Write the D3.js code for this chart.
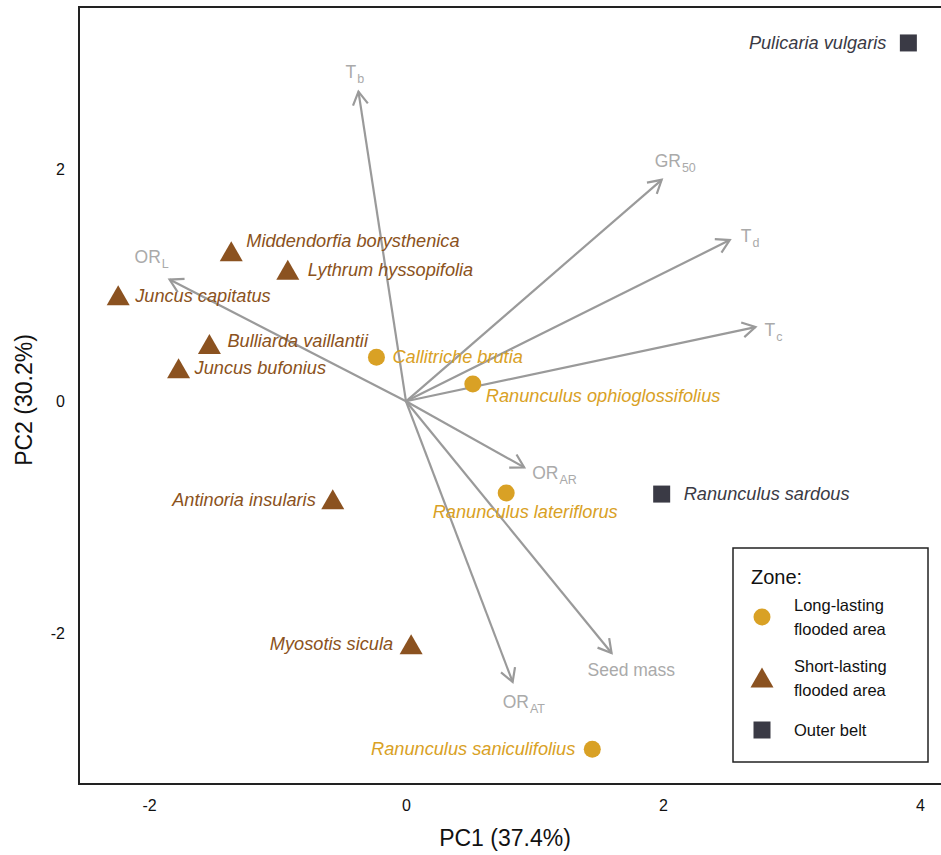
<!DOCTYPE html>
<html>
<head>
<meta charset="utf-8">
<script src="https://cdn.jsdelivr.net/npm/d3@7"></script>
<style>
  body { margin: 0; background: #fff; }
  text { font-family: "Liberation Sans", Arial, sans-serif; }
</style>
</head>
<body>
<script>
let w = 941;
let h = 855;

// species scores
let species = ["Pulicaria vulgaris", "Middendorfia borysthenica", "Lythrum hyssopifolia",
  "Juncus capitatus", "Bulliarda vaillantii", "Juncus bufonius", "Callitriche brutia",
  "Ranunculus ophioglossifolius", "Ranunculus lateriflorus", "Ranunculus sardous",
  "Antinoria insularis", "Myosotis sicula", "Ranunculus saniculifolius"];
let pc1 = [3.91, -1.36, -0.92, -2.24, -1.53, -1.77, -0.23, 0.52, 0.78, 1.99, -0.57, 0.04, 1.45];
let pc2 = [3.09, 1.29, 1.13, 0.91, 0.49, 0.28, 0.38, 0.15, -0.79, -0.80, -0.85, -2.10, -3.00];
let zone = ["outer", "short", "short", "short", "short", "short", "long", "long", "long",
  "outer", "short", "short", "long"];

// trait loadings (arrows)
let traits = ["Tb", "GR50", "Td", "Tc", "ORL", "ORAR", "Seed mass", "ORAT"];
let traitMain = ["T", "GR", "T", "T", "OR", "OR", "Seed mass", "OR"];
let traitSub = ["b", "50", "d", "c", "L", "AR", "", "AT"];
let load1 = [-0.37, 1.99, 2.52, 2.72, -1.84, 0.92, 1.60, 0.83];
let load2 = [2.67, 1.91, 1.39, 0.64, 1.05, -0.57, -2.17, -2.42];

let xTicks = [-2, 0, 2, 4];
let yTicks = [-2, 0, 2];

let zones = ["long", "short", "outer"];
let zoneLabels = [["Long-lasting", "flooded area"], ["Short-lasting", "flooded area"], ["Outer belt"]];
let zoneColors = { long: "#d9a125", short: "#8b5220", outer: "#3a3a45" };

// label placement (dx, dy relative to point, anchor)
let labelPos = {
  "Pulicaria vulgaris": [-22, 6, "end"],
  "Middendorfia borysthenica": [15, -5, "start"],
  "Lythrum hyssopifolia": [20, 6, "start"],
  "Juncus capitatus": [17, 6, "start"],
  "Bulliarda vaillantii": [18, 3, "start"],
  "Juncus bufonius": [16, 5, "start"],
  "Callitriche brutia": [16, 6, "start"],
  "Ranunculus ophioglossifolius": [13, 18, "start"],
  "Ranunculus lateriflorus": [19, 25, "middle"],
  "Ranunculus sardous": [22, 6, "start"],
  "Antinoria insularis": [-17, 6, "end"],
  "Myosotis sicula": [-18, 5, "end"],
  "Ranunculus saniculifolius": [-17, 6, "end"]
};
let traitLabelPos = [[-13, -14, "start"], [-7, -13, "start"], [11, 2, "start"], [9, 9, "start"],
  [-35, -17, "start"], [8, 12, "start"], [-24, 23, "start"], [-10, 26, "start"]];

let pLeft = 79, pTop = 7, pRight = 945, pBottom = 784;

let xScale = d3.scaleLinear().domain([-2.545, 4.164]).range([pLeft, pRight - 4]);
let yScale = d3.scaleLinear().domain([-3.30, 3.40]).range([pBottom, pTop]);

let svg = d3.select("body").append("svg")
  .attr("width", w)
  .attr("height", h);

// panel border
svg.append("rect")
  .attr("x", pLeft).attr("y", pTop)
  .attr("width", pRight - pLeft).attr("height", pBottom - pTop)
  .attr("fill", "none").attr("stroke", "#222").attr("stroke-width", 2);

// axes (labels only)
let xAxis = d3.axisBottom(xScale).tickValues(xTicks).tickSize(0).tickPadding(16)
  .tickFormat(function(d) { return String(d); });
let yAxis = d3.axisLeft(yScale).tickValues(yTicks).tickSize(0).tickPadding(14)
  .tickFormat(function(d) { return String(d); });

let gx = svg.append("g").attr("transform", "translate(0," + pBottom + ")").call(xAxis);
let gy = svg.append("g").attr("transform", "translate(" + pLeft + ",0)").call(yAxis);
[gx, gy].forEach(function(g) {
  g.select(".domain").remove();
  g.selectAll("text")
    .style("font-family", "'Liberation Sans', Arial, sans-serif")
    .style("font-size", "16px")
    .style("fill", "#111");
});

svg.append("text")
  .attr("x", 505).attr("y", 846)
  .attr("text-anchor", "middle")
  .style("font-size", "23px").style("fill", "#111")
  .text("PC1 (37.4%)");

svg.append("text")
  .attr("transform", "translate(32,400) rotate(-90)")
  .attr("text-anchor", "middle")
  .style("font-size", "23px").style("fill", "#111")
  .text("PC2 (30.2%)");

// arrows
let arrowColor = "#9a9a9a";
let ox = xScale(0), oy = yScale(0);
traits.forEach(function(t, i) {
  let tx = xScale(load1[i]), ty = yScale(load2[i]);
  svg.append("line")
    .attr("x1", ox).attr("y1", oy).attr("x2", tx).attr("y2", ty)
    .attr("stroke", arrowColor).attr("stroke-width", 2.2);
  let ang = Math.atan2(ty - oy, tx - ox);
  let len = 15, spread = Math.PI / 6;
  let p1 = [tx - len * Math.cos(ang - spread), ty - len * Math.sin(ang - spread)];
  let p2 = [tx - len * Math.cos(ang + spread), ty - len * Math.sin(ang + spread)];
  svg.append("path")
    .attr("d", "M" + p1 + "L" + [tx, ty] + "L" + p2)
    .attr("fill", "none").attr("stroke", arrowColor).attr("stroke-width", 2.2)
    .attr("stroke-linejoin", "miter");

  let lp = traitLabelPos[i];
  let label = svg.append("text")
    .attr("x", tx + lp[0]).attr("y", ty + lp[1])
    .attr("text-anchor", lp[2])
    .style("font-size", "17.5px").style("fill", "#aaaaaa");
  label.append("tspan").text(traitMain[i]);
  if (traitSub[i]) {
    label.append("tspan").attr("dy", 5).attr("dx", 1)
      .style("font-size", "12.5px").text(traitSub[i]);
  }
});

// symbols
function drawSymbol(g, z, cx, cy) {
  if (z === "long") {
    g.append("circle").attr("cx", cx).attr("cy", cy).attr("r", 8.5).attr("fill", zoneColors[z]);
  } else if (z === "short") {
    g.append("path")
      .attr("d", "M" + (cx - 11.5) + "," + (cy + 9.5) + "L" + (cx + 11.5) + "," + (cy + 9.5) +
        "L" + cx + "," + (cy - 10.5) + "Z")
      .attr("fill", zoneColors[z]);
  } else {
    g.append("rect").attr("x", cx - 8.5).attr("y", cy - 8.5)
      .attr("width", 17).attr("height", 17).attr("fill", zoneColors[z]);
  }
}

let pts = svg.append("g");
species.forEach(function(s, i) {
  let cx = xScale(pc1[i]), cy = yScale(pc2[i]);
  drawSymbol(pts, zone[i], cx, cy);
  let lp = labelPos[s];
  pts.append("text")
    .attr("x", cx + lp[0]).attr("y", cy + lp[1])
    .attr("text-anchor", lp[2])
    .style("font-size", "18.2px").style("font-style", "italic")
    .style("fill", zoneColors[zone[i]])
    .text(s);
});

// legend
let lg = svg.append("g");
lg.append("rect")
  .attr("x", 733).attr("y", 548).attr("width", 195).attr("height", 214)
  .attr("fill", "#fff").attr("stroke", "#222").attr("stroke-width", 1.5);
lg.append("text").attr("x", 751).attr("y", 584)
  .style("font-size", "20px").style("fill", "#111").text("Zone:");
let legY = [617, 678, 730];
zones.forEach(function(z, i) {
  drawSymbol(lg, z, 762, legY[i]);
  let lines = zoneLabels[i];
  let y0 = lines.length === 2 ? legY[i] - 6 : legY[i] + 6;
  lines.forEach(function(line, j) {
    lg.append("text").attr("x", 794).attr("y", y0 + j * 24)
      .style("font-size", "16.5px").style("fill", "#111").text(line);
  });
});
</script>
</body>
</html>
